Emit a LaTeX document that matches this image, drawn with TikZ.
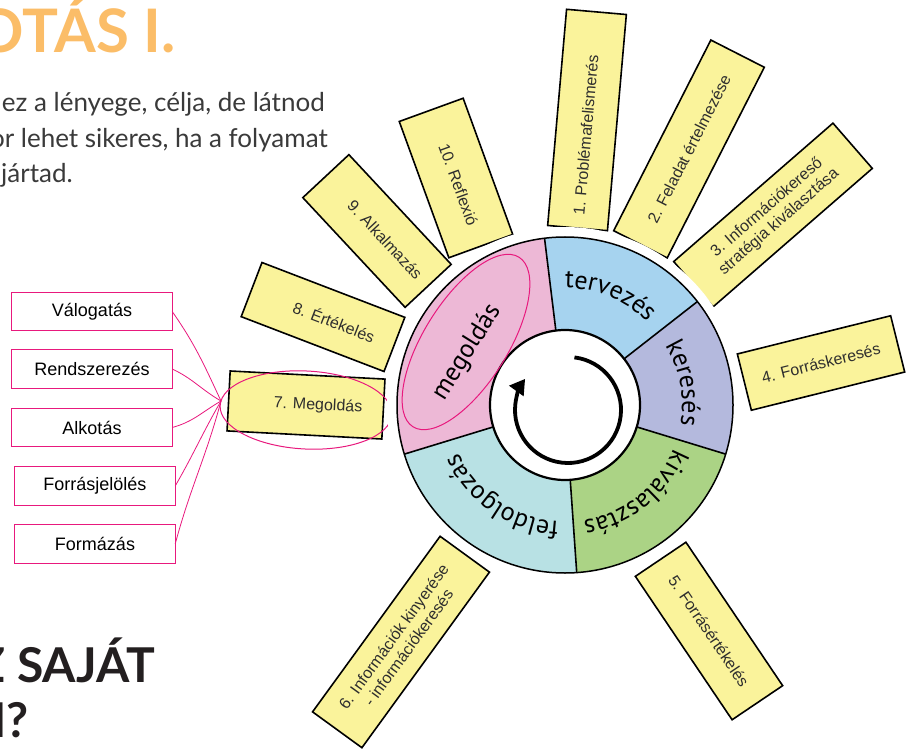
\documentclass[tikz,border=0pt]{standalone}
\usepackage{fontspec}
\setmainfont{Liberation Sans}
\newfontfamily\wheelfont{PT Sans}
\newfontfamily\headfont{Lato}
\usetikzlibrary{decorations.text,arrows.meta}
\definecolor{boxyellow}{HTML}{FAF39B}
\definecolor{txtgray}{HTML}{2E2E2E}
\definecolor{pinkline}{HTML}{E8197D}
\definecolor{cmeg}{HTML}{EDB8D6}
\definecolor{cter}{HTML}{A6D3EF}
\definecolor{cker}{HTML}{B4B9DD}
\definecolor{ckiv}{HTML}{ABD385}
\definecolor{cfel}{HTML}{B8E1E4}
\definecolor{titleorange}{HTML}{FBBD68}
\definecolor{headdark}{HTML}{231F20}
\definecolor{bodygray}{HTML}{3A3A3A}
\newcommand\wheelsz{\wheelfont\fontsize{26}{26}\selectfont}
\begin{document}
\begin{tikzpicture}[x=1pt,y=1pt,
  sticky/.style={draw=black, line width=1.6pt, fill=boxyellow, align=center, text=txtgray,
                 font=\fontsize{16}{18.5}\selectfont, inner sep=1pt},
  pinkbox/.style={minimum width=160, minimum height=38, inner sep=0pt, font=\fontsize{18}{20}\selectfont},
  pinkframe/.style={draw=pinkline, line width=1pt},
  link/.style={draw=pinkline, line width=0.8pt},
  segline/.style={line width=1.6pt, draw=black},
  bodytxt/.style={anchor=base east, text=bodygray, font=\headfont\fontsize{26}{26}\selectfont, inner sep=0pt},
  headtxt/.style={anchor=base east, text=headdark, font=\headfont\bfseries\fontsize{48}{48}\selectfont, inner sep=0pt}]
\useasboundingbox (0,0) rectangle (909,748);
\clip (0,0) rectangle (909,748);

% heading texts
\node[anchor=base east, inner sep=0pt, text=titleorange, font=\headfont\bfseries\fontsize{60}{60}\selectfont] (title) at (176,695) {OTÁS I.};
\node[bodytxt] (t1) at (325,636) {ez a lényege, célja, de látnod};
\node[bodytxt] (t2) at (328,600) {or lehet sikeres, ha a folyamat};
\node[bodytxt] (t3) at (73,565) {jártad.};
\node[headtxt] (h1) at (155,66) {Z SAJÁT};
\node[headtxt] (h2) at (29,11) {M?};

% left boxes
\node[pinkbox] (l1) at (92,436.5) {Válogatás};
\node[pinkbox] (l2) at (92,379) {Rendszerezés};
\node[pinkbox] (l3) at (92,320.5) {Alkotás};
\node[pinkbox] (l4) at (95,262) {Forrásjelölés};
\node[pinkbox] (l5) at (95,204) {Formázás};
\foreach \n in {l1,l2,l3,l4,l5}
  \draw[pinkframe] (\n.south west) rectangle (\n.north east);

% sticky notes
\node[sticky, minimum width=217, minimum height=60, rotate=85] (b1) at (587,628) {1. Problémafelismerés\hspace*{30pt}};
\node[sticky, minimum width=214, minimum height=60, rotate=63] (b2) at (689,599) {2. Feladat értelmezése};
\node[sticky, minimum width=211, minimum height=60, rotate=41] (b3) at (773,533) {3. Információkereső\\stratégia kiválasztása};
\node[sticky, minimum width=158, minimum height=58, rotate=14] (b4) at (821,385) {4. Forráskeresés};
\node[sticky, minimum width=173, minimum height=61, rotate=-56] (b5) at (709,117) {5. Forrásértékelés};
\node[sticky, minimum width=217, minimum height=61, rotate=54] (b6) at (401,106) {6. Információk kinyerése\\- információkeresés};
\node[sticky, minimum width=155, minimum height=60, rotate=-3] (b7) at (306,343) {\hspace*{24pt}7. Megoldás};
\node[sticky, minimum width=153, minimum height=58, rotate=-21] (b8) at (323,431) {\hspace*{24pt}8. Értékelés};
\node[sticky, minimum width=150, minimum height=63, rotate=-47] (b9) at (377,517) {\hspace*{24pt}9. Alkalmazás};
\node[sticky, minimum width=145, minimum height=68, rotate=-70] (b10) at (456,570) {\hspace*{14pt}10. Reflexió};

% ellipse around 7. Megoldás and links
\draw[pinkline, line width=1pt, rotate around={-3:(306,338)}] (306,338) ellipse [x radius=86, y radius=39];
\coordinate (hub) at (221,347);
\draw[link] (l1.east) to[out=-55,in=115] (hub);
\draw[link] (l2.east) to[out=-25,in=150] (hub);
\draw[link] (l3.east) to[out=15,in=-150] (hub);
\draw[link] (l4.east) to[out=60,in=-120] (hub);
\draw[link] (l5.east) to[out=75,in=-105] (hub);

% wheel
\begin{scope}[shift={(565,343)}]
  \fill[white] (0,0) circle (178);
  \fill[cmeg] (97:168) arc[start angle=97,end angle=197,radius=168] -- (197:75) arc[start angle=197,end angle=97,radius=75] -- cycle;
  \fill[cter] (38:168) arc[start angle=38,end angle=97,radius=168] -- (97:75) arc[start angle=97,end angle=38,radius=75] -- cycle;
  \fill[cker] (-17:168) arc[start angle=-17,end angle=38,radius=168] -- (38:75) arc[start angle=38,end angle=-17,radius=75] -- cycle;
  \fill[ckiv] (-86:168) arc[start angle=-86,end angle=-17,radius=168] -- (-17:75) arc[start angle=-17,end angle=-86,radius=75] -- cycle;
  \fill[cfel] (197:168) arc[start angle=197,end angle=274,radius=168] -- (274:75) arc[start angle=274,end angle=197,radius=75] -- cycle;
  \foreach \a in {97,38,-17,-86,197} \draw[segline] (\a:75) -- (\a:168);
  \draw[line width=1.5pt] (0,0) circle (168);
  \draw[line width=2.2pt] (0,0) circle (75);
  \node[rotate=58, font=\wheelsz, inner sep=0pt] (meg) at (-98,53) {megoldás};
  \draw[pinkline, line width=1pt, rotate around={58:(-99,63)}] (-99,63) ellipse [x radius=100, y radius=42];
  % centre arrow
  \draw[line width=3.8pt, -{Triangle[length=15pt,width=17pt]}] (3,-5) ++(83:53) arc[start angle=83,end angle=-216,radius=53];
  % curved labels
  \path[decorate, decoration={text along path, text align=center, text={|\wheelsz|tervezés}}]
    (97:117) arc[start angle=97,end angle=38,radius=117];
  \path[decorate, decoration={text along path, text align=center, text={|\wheelsz|keresés}}]
    (38:117) arc[start angle=38,end angle=-17,radius=117];
  \path[decorate, decoration={text along path, text align=center, text={|\wheelsz|kiválasztás}}]
    (-17:117) arc[start angle=-17,end angle=-86,radius=117];
  \path[decorate, decoration={text along path, text align=center, text={|\wheelsz|feldolgozás}}]
    (274:117) arc[start angle=274,end angle=197,radius=117];
\end{scope}
\end{tikzpicture}
\end{document}
